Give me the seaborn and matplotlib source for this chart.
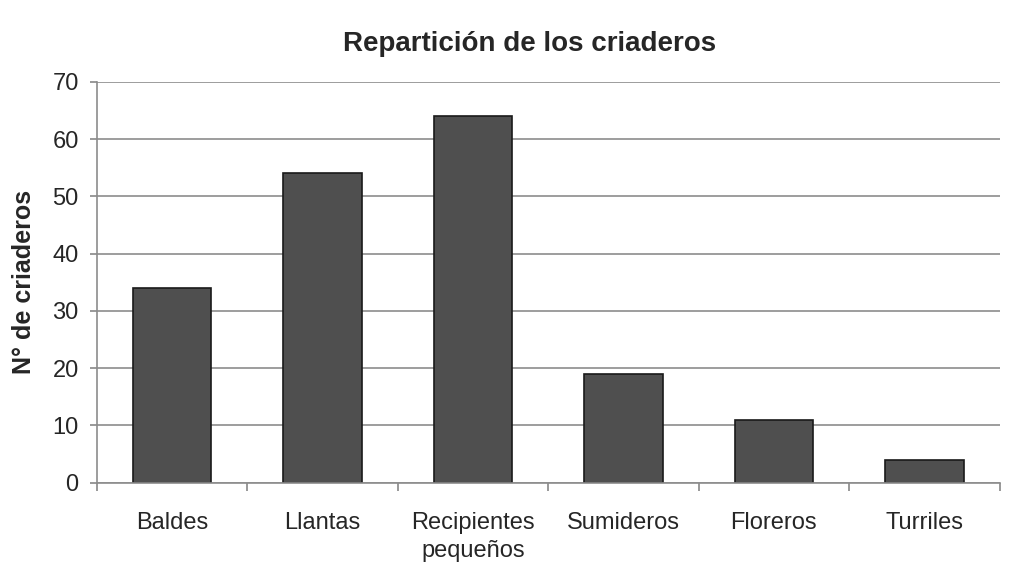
import matplotlib
matplotlib.use("Agg")
import matplotlib.pyplot as plt
import seaborn as sns
import pandas as pd

# Data
categorias = ['Baldes', 'Llantas', 'Recipientes\npequeños', 'Sumideros', 'Floreros', 'Turriles']
criaderos = [34, 54, 64, 19, 11, 4]

df = pd.DataFrame({'categoria': categorias, 'criaderos': criaderos})

sns.set_theme(style='white')
plt.rcParams['font.family'] = ['Liberation Sans', 'DejaVu Sans']

fig = plt.figure(figsize=(10.19, 5.64), dpi=100)
ax = fig.add_axes([0.095, 0.144, 0.886, 0.711])

sns.barplot(data=df, x='categoria', y='criaderos', color='#4f4f4f',
            edgecolor='#1a1a1a', linewidth=1.2, width=0.52, saturation=1, ax=ax)

ax.set_ylim(0, 70)
ax.set_xlim(-0.5, 5.5)
ax.set_yticks(range(0, 71, 10))
ax.yaxis.grid(True, color='#8c8c8c', linewidth=1.2)
ax.set_axisbelow(True)

for side in ['top', 'right']:
    ax.spines[side].set_visible(False)
ax.spines['left'].set_color('#8c8c8c')
ax.spines['bottom'].set_color('#8c8c8c')
ax.spines['left'].set_linewidth(1.2)
ax.spines['bottom'].set_linewidth(1.2)

# x ticks sit between the categories, labels centered on bars
ax.set_xticks([i + 0.5 for i in range(-1, 6)], minor=False)
ax.set_xticklabels([])
ax.set_xticks(range(6), minor=True)
ax.set_xticklabels(categorias, minor=True, fontsize=17, linespacing=1.35)
ax.tick_params(axis='x', which='major', length=6, color='#8c8c8c', direction='out', bottom=True)
ax.tick_params(axis='x', which='minor', length=0, pad=21, bottom=True)
ax.tick_params(axis='y', length=5, color='#8c8c8c', direction='out', left=True, labelsize=17, pad=8)

ax.set_xlabel('')
ax.set_ylabel('N° de criaderos', fontsize=18, fontweight='bold', labelpad=12)
fig.suptitle('Repartición de los criaderos', fontsize=20, fontweight='bold', x=0.52, y=0.945)

fig.savefig('out.png', dpi=100, facecolor='white')
